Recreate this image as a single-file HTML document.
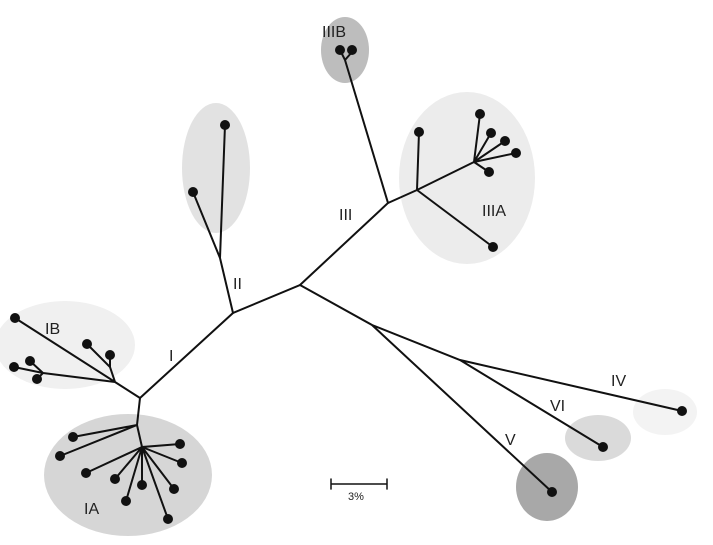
<!DOCTYPE html><html><head><style>body{margin:0;background:#fff}svg{display:block}text{font-family:"Liberation Sans",sans-serif;fill:#222}</style></head><body>
<svg width="713" height="545" viewBox="0 0 713 545">
<g stroke="none">
<ellipse cx="128" cy="475" rx="84" ry="61" fill="#d6d6d6"/>
<ellipse cx="65" cy="345" rx="70" ry="44" fill="#f0f0f0"/>
<ellipse cx="216" cy="168" rx="34" ry="65" fill="#e2e2e2"/>
<ellipse cx="345" cy="50" rx="24" ry="33" fill="#bdbdbd"/>
<ellipse cx="467" cy="178" rx="68" ry="86" fill="#ececec"/>
<ellipse cx="547" cy="487" rx="31" ry="34" fill="#a8a8a8"/>
<ellipse cx="598" cy="438" rx="33" ry="23" fill="#dadada"/>
<ellipse cx="665" cy="412" rx="32" ry="23" fill="#f3f3f3"/>
</g>
<g stroke="#111" stroke-width="2" fill="none" stroke-linecap="round">
<path d="M140 398 L233 313 L300 285 L388 203 L345 60 M352 52 L345 60 L340 50"/>
<path d="M233 313 L220 258 L225 125 M220 258 L193 192"/>
<path d="M388 203 L417 190 L474 162 M417 190 L419 132 M417 190 L493 247 M474 162 L480 114 M474 162 L491 133 M474 162 L505 141 M474 162 L516 153 M474 162 L489 172"/>
<path d="M300 285 L372 325 L552 492 M372 325 L460 360 L682 411 M460 360 L603 447"/>
<path d="M140 398 L115 382 L15 318 M115 382 L110 367 L87 344 M110 367 L110 355 M115 382 L43 373 L14 367 M43 373 L30 361 M43 373 L37 379"/>
<path d="M140 398 L137 425 L73 437 M137 425 L60 456 M137 425 L142 447 L180 444 M142 447 L182 463 M142 447 L86 473 M142 447 L115 479 M142 447 L142 485 M142 447 L126 501 M142 447 L174 489 M142 447 L168 519"/>
<path d="M331 484 L387 484 M331 479 L331 489 M387 479 L387 489" stroke-width="1.5"/>
</g>
<g fill="#111">
<circle cx="340" cy="50" r="5"/><circle cx="352" cy="50" r="5"/>
<circle cx="225" cy="125" r="5"/><circle cx="193" cy="192" r="5"/>
<circle cx="419" cy="132" r="5"/><circle cx="493" cy="247" r="5"/><circle cx="480" cy="114" r="5"/><circle cx="491" cy="133" r="5"/><circle cx="505" cy="141" r="5"/><circle cx="516" cy="153" r="5"/><circle cx="489" cy="172" r="5"/>
<circle cx="552" cy="492" r="5"/><circle cx="682" cy="411" r="5"/><circle cx="603" cy="447" r="5"/>
<circle cx="15" cy="318" r="5"/><circle cx="87" cy="344" r="5"/><circle cx="110" cy="355" r="5"/><circle cx="14" cy="367" r="5"/><circle cx="30" cy="361" r="5"/><circle cx="37" cy="379" r="5"/>
<circle cx="73" cy="437" r="5"/><circle cx="60" cy="456" r="5"/><circle cx="180" cy="444" r="5"/><circle cx="182" cy="463" r="5"/><circle cx="86" cy="473" r="5"/><circle cx="115" cy="479" r="5"/><circle cx="142" cy="485" r="5"/><circle cx="126" cy="501" r="5"/><circle cx="174" cy="489" r="5"/><circle cx="168" cy="519" r="5"/>
</g>
<g font-size="16">
<text x="169" y="361">I</text><text x="233" y="289">II</text><text x="339" y="220">III</text><text x="482" y="216">IIIA</text><text x="322" y="37">IIIB</text><text x="45" y="334">IB</text><text x="84" y="514">IA</text><text x="505" y="445">V</text><text x="550" y="411">VI</text><text x="611" y="386">IV</text>
<text x="348" y="500" font-size="11">3%</text>
</g>
</svg></body></html>
